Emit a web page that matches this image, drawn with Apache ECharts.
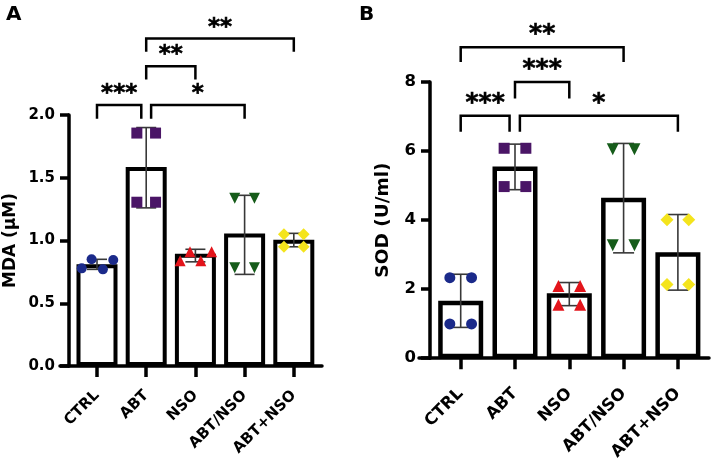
<!DOCTYPE html>
<html>
<head>
<meta charset="utf-8">
<script src="https://cdn.jsdelivr.net/npm/echarts@6/dist/echarts.min.js"></script>
<style>
html,body{margin:0;padding:0;background:#fff;}
#chart{width:712px;height:463px;}
</style>
</head>
<body>
<div id="chart"></div>
<script>
// ---------- data ----------
const categories = ['CTRL', 'ABT', 'NSO', 'ABT/NSO', 'ABT+NSO'];
const yTicksA = [0, 0.5, 1.0, 1.5, 2.0];
const yTicksB = [0, 2, 4, 6, 8];

// Panel A: MDA (µM)
const mdaMean = [0.81, 1.585, 0.895, 1.055, 1.005];
const mdaErrLow = [0.77, 1.26, 0.83, 0.73, 0.95];
const mdaErrHigh = [0.85, 1.90, 0.93, 1.36, 1.057];
// points: [offset from group centre, value]
const mdaPtsCTRL = [[-0.31, 0.778], [-0.11, 0.850], [0.12, 0.770], [0.33, 0.844]];
const mdaPtsABT = [[-0.19, 1.856], [0.19, 1.856], [-0.19, 1.305], [0.19, 1.305]];
const mdaPtsNSO = [[-0.31, 0.839], [-0.11, 0.911], [0.11, 0.839], [0.33, 0.911]];
const mdaPtsABTslNSO = [[-0.2, 1.337], [0.2, 1.337], [-0.2, 0.783], [0.2, 0.783]];
const mdaPtsABTplNSO = [[-0.2, 1.05], [0.2, 1.05], [-0.2, 0.95], [0.2, 0.95]];
// brackets: [x1, x2, line level, leg end level, label]
const mdaBrackets = [
  [0, 0.9, 2.08, 1.97, '***'],
  [1.1, 3, 2.08, 1.97, '*'],
  [1, 2, 2.388, 2.282, '**'],
  [1, 4, 2.609, 2.503, '**']
];

// Panel B: SOD (U/ml)
const sodMean = [1.66, 5.55, 1.88, 4.65, 3.07];
const sodErrLow = [0.89, 4.88, 1.52, 3.05, 1.97];
const sodErrHigh = [2.43, 6.20, 2.19, 6.22, 4.16];
const sodPtsCTRL = [[-0.2, 2.33], [0.2, 2.33], [-0.2, 0.99], [0.2, 0.99]];
const sodPtsABT = [[-0.2, 6.08], [0.2, 6.08], [-0.2, 4.97], [0.2, 4.97]];
const sodPtsNSO = [[-0.2, 2.09], [0.2, 2.09], [-0.2, 1.55], [0.2, 1.55]];
const sodPtsABTslNSO = [[-0.2, 6.05], [0.2, 6.05], [-0.2, 3.27], [0.2, 3.27]];
const sodPtsABTplNSO = [[-0.2, 4.01], [0.2, 4.01], [-0.2, 2.13], [0.2, 2.13]];
const sodBrackets = [
  [0, 0.9, 7.02, 6.56, '***'],
  [1.09, 4, 7.02, 6.56, '*'],
  [1, 2, 8.0, 7.52, '***'],
  [0, 3, 9.01, 8.58, '**']
];

// ---------- styling ----------
const FONT = 'DejaVu Sans';
const groupColors = ['#1b2a8a', '#4a1566', '#e3141b', '#165c1a', '#f4e41c'];
const groupSymbols = ['circle', 'rect', 'triangle', 'triangle', 'diamond'];
const groupRotate = [0, 0, 0, 180, 0];

const chart = echarts.init(document.getElementById('chart'), null, {renderer: 'canvas'});

function makeXAxis(gridIndex, min, max, fontSize, margin) {
  return {
    type: 'value', gridIndex, min, max,
    axisLine: {show: true, onZero: false, lineStyle: {color: '#000', width: 3.5}},
    axisTick: {show: true, length: 11, lineStyle: {color: '#000', width: 3.5}, customValues: [0, 1, 2, 3, 4]},
    axisLabel: {
      customValues: [0, 1, 2, 3, 4],
      formatter: v => categories[Math.round(v)],
      rotate: 45, margin, color: '#000', fontFamily: FONT, fontWeight: 'bold', fontSize
    },
    splitLine: {show: false}
  };
}
function makeYAxis(gridIndex, max, interval, name, nameGap, offset, fontSize, nameSize, fmt) {
  return {
    type: 'value', gridIndex, min: 0, max, interval, offset,
    name, nameLocation: 'middle', nameGap,
    nameTextStyle: {color: '#000', fontFamily: FONT, fontWeight: 'bold', fontSize: nameSize},
    axisLine: {show: true, onZero: false, lineStyle: {color: '#000', width: 3.5}},
    axisTick: {show: true, length: 9, lineStyle: {color: '#000', width: 3.5}},
    axisLabel: {margin: 14, color: '#000', fontFamily: FONT, fontWeight: 'bold', fontSize, formatter: fmt},
    splitLine: {show: false}
  };
}

function errRender(capW) {
  return function (params, api) {
    const x = api.value(0);
    const lo = api.coord([x, api.value(1)]);
    const hi = api.coord([x, api.value(2)]);
    const st = {stroke: '#383838', lineWidth: 1.6};
    return {type: 'group', children: [
      {type: 'line', shape: {x1: lo[0], y1: lo[1], x2: hi[0], y2: hi[1]}, style: st},
      {type: 'line', shape: {x1: lo[0] - capW / 2, y1: lo[1], x2: lo[0] + capW / 2, y2: lo[1]}, style: st},
      {type: 'line', shape: {x1: hi[0] - capW / 2, y1: hi[1], x2: hi[0] + capW / 2, y2: hi[1]}, style: st}
    ]};
  };
}
function bracketRender(list, starSize, lift) {
  return function (params, api) {
    const b = list[params.dataIndex];
    const p1 = api.coord([b[0], b[2]]), p2 = api.coord([b[1], b[2]]);
    const l1 = api.coord([b[0], b[3]]), l2 = api.coord([b[1], b[3]]);
    return {type: 'group', children: [
      {type: 'polyline', shape: {points: [l1, p1, p2, l2]},
        style: {stroke: '#000', lineWidth: 2.5, fill: null, lineJoin: 'miter'}},
      {type: 'text', x: (p1[0] + p2[0]) / 2, y: p1[1] - lift,
        style: {text: b[4], fill: '#000', stroke: '#000', lineWidth: 0.6, font: 'bold ' + starSize + 'px "' + FONT + '"', align: 'center', verticalAlign: 'middle'}}
    ]};
  };
}

function panelSeries(idx, means, lows, highs, ptsList, brackets, barW, borderW, symSizes, capW, starSize, lift) {
  const s = [];
  s.push({
    type: 'bar', xAxisIndex: idx, yAxisIndex: idx, barWidth: barW, z: 2,
    itemStyle: {color: '#fff', borderColor: '#000', borderWidth: borderW},
    data: means.map((v, i) => [i, v])
  });
  s.push({
    type: 'custom', xAxisIndex: idx, yAxisIndex: idx, z: 3, clip: false,
    renderItem: errRender(capW),
    encode: {x: 0, y: [1, 2]},
    data: means.map((v, i) => [i, lows[i], highs[i]])
  });
  ptsList.forEach((pts, i) => {
    s.push({
      type: 'scatter', xAxisIndex: idx, yAxisIndex: idx, z: 4,
      symbol: groupSymbols[i], symbolRotate: groupRotate[i], symbolSize: symSizes[i],
      itemStyle: {color: groupColors[i], opacity: 1},
      data: pts.map(p => [i + p[0], p[1]])
    });
  });
  s.push({
    type: 'custom', xAxisIndex: idx, yAxisIndex: idx, z: 5, clip: false,
    renderItem: bracketRender(brackets, starSize, lift),
    encode: {x: [0, 1], y: [2, 3]},
    data: brackets.map(b => [b[0], b[1], b[2], b[3]])
  });
  return s;
}

const option = {
  animation: false,
  backgroundColor: '#fff',
  title: [
    {text: 'A', left: 6, top: 5, padding: 0, textStyle: {fontFamily: FONT, fontWeight: 'bold', fontSize: 20, color: '#000'}},
    {text: 'B', left: 359, top: 5, padding: 0, textStyle: {fontFamily: FONT, fontWeight: 'bold', fontSize: 20, color: '#000'}}
  ],
  grid: [
    {left: 60, top: 115, width: 262, height: 251},
    {left: 419, top: 82, width: 290, height: 277}
  ],
  xAxis: [
    makeXAxis(0, -0.752, 4.573, 15, 27),
    makeXAxis(1, -0.768, 4.573, 16.5, 33)
  ],
  yAxis: [
    makeYAxis(0, 2, 0.5, 'MDA (µM)', 50, -9, 15, 17, v => v.toFixed(1)),
    makeYAxis(1, 8, 2, 'SOD (U/ml)', 37, -11, 16.5, 18.5, v => String(v))
  ],
  series: [].concat(
    panelSeries(0, mdaMean, mdaErrLow, mdaErrHigh,
      [mdaPtsCTRL, mdaPtsABT, mdaPtsNSO, mdaPtsABTslNSO, mdaPtsABTplNSO],
      mdaBrackets, 41, 4, [10, 11, 11, 11, 12], 20, 23, 11),
    panelSeries(1, sodMean, sodErrLow, sodErrHigh,
      [sodPtsCTRL, sodPtsABT, sodPtsNSO, sodPtsABTslNSO, sodPtsABTplNSO],
      sodBrackets, 45, 4.5, [11, 11, 12, 12, 13], 21, 25, 12.5)
  )
};
chart.setOption(option);
</script>
</body>
</html>
